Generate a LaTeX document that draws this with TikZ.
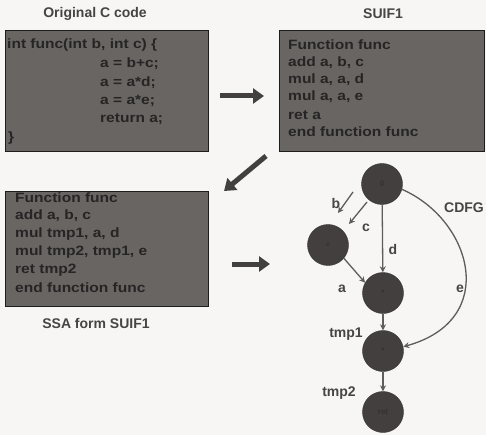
\documentclass[tikz,border=0pt]{standalone}
\usepackage{fontspec}
\setmainfont{Liberation Sans}
\usetikzlibrary{arrows.meta}
\definecolor{bg}{RGB}{247,246,244}
\definecolor{boxfill}{RGB}{104,101,98}
\definecolor{boxtext}{RGB}{38,36,36}
\definecolor{titletext}{RGB}{70,68,68}
\definecolor{nodefill}{RGB}{66,63,62}
\definecolor{edgecol}{RGB}{95,92,90}
\newcommand{\wide}[1]{\scalebox{1.15}[1]{#1}}
\tikzset{
  codebox/.style={draw=boxtext!80!black, line width=0.8pt, fill=boxfill},
  codeline/.style={anchor=west, inner sep=0pt, text=boxtext, font=\fontsize{13.5}{14}\selectfont\bfseries},
  title/.style={text=titletext, font=\fontsize{14}{15}\selectfont\bfseries},
  bigarrow/.style={draw=nodefill, line width=5pt, -{Triangle[length=11pt,width=15pt]}},
  gnode/.style={circle, fill=nodefill, draw=nodefill!80!black, minimum size=41pt, inner sep=0pt, text=black!80, font=\fontsize{8}{9}\selectfont\bfseries},
  gedge/.style={draw=edgecol, line width=1.3pt, -{Stealth[length=6pt,width=6pt]}},
  elabel/.style={text=titletext, font=\fontsize{14}{15}\selectfont\bfseries, inner sep=0pt}
}
\begin{document}
\begin{tikzpicture}[x=1pt,y=-1pt]
\useasboundingbox[fill=bg] (0,0) rectangle (486,435);
% titles
\node[title] (t1) at (95,14) {Original C code};
\node[title] (t2) at (383,14) {SUIF1};
\node[title] (t3) at (96,323) {SSA form SUIF1};
% boxes
\path[codebox] (5,30) rectangle (208,151);
\path[codebox] (279,30) rectangle (484,151);
\path[codebox] (5,191) rectangle (208,306);
% original code
\node[codeline] (c1) at (7,45) {\wide{int func(int b, int c) \{}};
\node[codeline] (c2) at (100,64) {\wide{a = b+c;}};
\node[codeline] (c3) at (100,83) {\wide{a = a*d;}};
\node[codeline] (c4) at (100,101) {\wide{a = a*e;}};
\node[codeline] (c5) at (100,119) {\wide{return a;}};
\node[codeline] (c6) at (8,138) {\wide{\}}};
% SUIF1
\node[codeline] (s1) at (288,45) {\wide{Function func}};
\node[codeline] (s2) at (288,63) {\wide{add a, b, c}};
\node[codeline] (s3) at (288,80) {\wide{mul a, a, d}};
\node[codeline] (s4) at (288,97) {\wide{mul a, a, e}};
\node[codeline] (s5) at (288,115) {\wide{ret a}};
\node[codeline] (s6) at (288,132) {\wide{end function func}};
% SSA
\node[codeline] (r1) at (15,198) {\wide{Function func}};
\node[codeline] (r2) at (15,216) {\wide{add a, b, c}};
\node[codeline] (r3) at (15,234) {\wide{mul tmp1, a, d}};
\node[codeline] (r4) at (15,252) {\wide{mul tmp2, tmp1, e}};
\node[codeline] (r5) at (15,270) {\wide{ret tmp2}};
\node[codeline] (r6) at (15,288) {\wide{end function func}};
% big arrows
\coordinate (a1s) at (220,96);
\coordinate (a1e) at (264,96);
\draw[bigarrow] (a1s) -- (a1e);
\coordinate (a2s) at (266,156);
\coordinate (a2e) at (224,191);
\draw[bigarrow] (a2s) -- (a2e);
\coordinate (a3s) at (232,264);
\coordinate (a3e) at (270,264);
\draw[bigarrow] (a3s) -- (a3e);
% graph
\node[gnode] (n0) at (382,184) {0};
\node[gnode] (n1) at (328,245) {+};
\node[gnode] (n2) at (383,293) {*};
\node[gnode] (n3) at (383,351) {*};
\node[gnode] (n4) at (383,412) {ret};
\node[elabel] (cdfg) at (464,208) {CDFG};
\coordinate (bs) at (353,192);
\coordinate (be) at (338,213);
\coordinate (cs) at (367,202);
\coordinate (ce) at (349,224);
\draw[gedge] (bs) -- (be);
\draw[gedge] (cs) -- (ce);
\draw[gedge] (n0) -- (n2);
\draw[gedge] (n1.-40) -- (n2.150);
\draw[gedge] (n2) -- (n3);
\draw[gedge] (n3) -- (n4);
\draw[gedge] (n0.-15) .. controls (472,220) and (500,320) .. (n3.12);
\node[elabel] (lb) at (336,203) {b};
\node[elabel] (lc) at (366,228) {c};
\node[elabel] (ld) at (393,249) {d};
\node[elabel] (la) at (342,289) {a};
\node[elabel] (le) at (460,289) {e};
\node[elabel] (lt1) at (346,334) {tmp1};
\node[elabel] (lt2) at (339,393) {tmp2};
\end{tikzpicture}
\end{document}
